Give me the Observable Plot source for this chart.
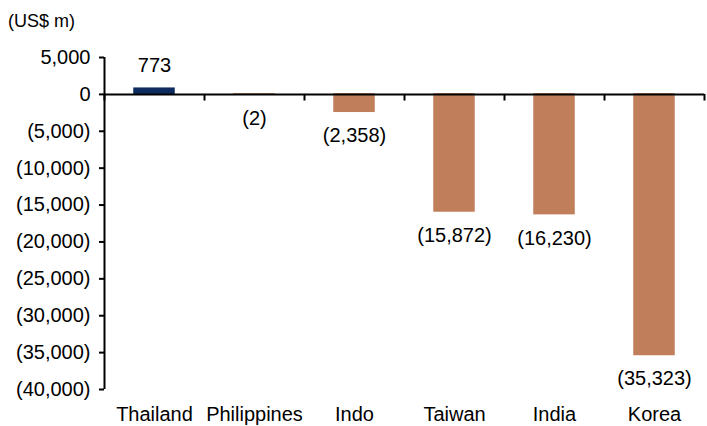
<!DOCTYPE html>
<html><head><meta charset="utf-8">
<script src="https://cdn.jsdelivr.net/npm/d3@7"></script>
<script src="https://cdn.jsdelivr.net/npm/@observablehq/plot@0.6"></script>
<style>
body{margin:0;background:#fff;font-family:"Liberation Sans",Arial,sans-serif;}
#wrap{position:relative;width:707px;height:426px;}
#unit{position:absolute;left:8px;top:10px;font-size:18px;line-height:22px;color:#000;}
</style></head>
<body><div id="wrap"><div id="unit">(US$ m)</div></div>
<script>
const countries = ["Thailand","Philippines","Indo","Taiwan","India","Korea"];
const values = [773, -2, -2358, -15872, -16230, -35323];
const yTicks = [5000, 0, -5000, -10000, -15000, -20000, -25000, -30000, -35000, -40000];

const data = countries.map((c,i)=>({country:c, value:values[i]}));
const pos = data.filter(d => d.value >= 0);
const neg = data.filter(d => d.value < 0);
const fmt = v => v < 0 ? `(${d3.format(",")(-v)})` : d3.format(",")(v);

const plot = Plot.plot({
  width: 707, height: 426,
  marginLeft: 104, marginRight: 3, marginTop: 57, marginBottom: 37,
  style: {fontFamily: '"Liberation Sans", Arial, sans-serif', fontSize: "20px", color: "#000", background: "transparent"},
  x: {domain: countries, paddingInner: 0.6, paddingOuter: 0.3, label: null},
  y: {domain: [-40000, 5000], label: null},
  marks: [
    Plot.barY(data, {x: "country", y: "value", fill: d => d.value >= 0 ? "#0d2b5e" : "#c07f5a",
      stroke: d => d.value >= 0 ? "#0d2b5e" : "#c07f5a", strokeWidth: 1.5}),
    Plot.ruleY([0], {stroke: "#000", strokeWidth: 2}),
    Plot.ruleX(countries, {x: d => d, y1: 0, y2: -900, dx: -50, stroke: "#000", strokeWidth: 2}),
    Plot.ruleX([countries[countries.length-1]], {x: d => d, y1: 0, y2: -900, dx: 50, stroke: "#000", strokeWidth: 2}),
    Plot.axisY({ticks: yTicks, tickFormat: fmt, tickSize: 5, tickPadding: 9, stroke: "#000", strokeWidth: 2, fontSize: 20, label: null}),
    Plot.ruleX([countries[0]], {x: d => d, y1: -40000, y2: 5000, dx: -50, stroke: "#000", strokeWidth: 2}),
    Plot.axisX({anchor: "bottom", tickSize: 0, tickPadding: 17, fontSize: 20, label: null}),
    Plot.text(pos, {x: "country", y: "value", text: d => fmt(d.value), dy: -23, textAnchor: "middle", fontSize: 20, fill: "#000"}),
    Plot.text(neg, {x: "country", y: "value", text: d => fmt(d.value), dy: 24, textAnchor: "middle", fontSize: 20, fill: "#000"})
  ]
});
document.getElementById("wrap").appendChild(plot);
</script></body></html>
